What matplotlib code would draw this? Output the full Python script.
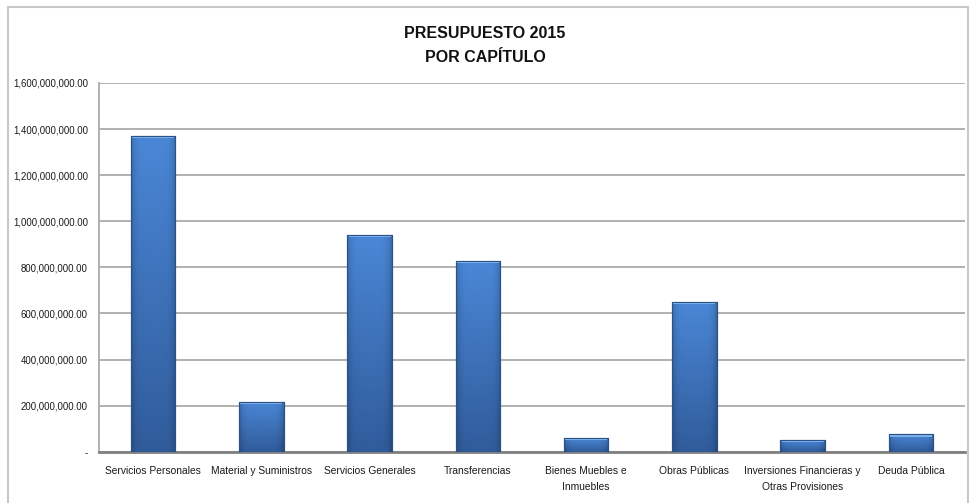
import numpy as np
import matplotlib
matplotlib.use('Agg')
import matplotlib.pyplot as plt
from matplotlib.ticker import FuncFormatter
from matplotlib.patches import Rectangle

categories = ['Servicios Personales', 'Material y Suministros', 'Servicios Generales',
              'Transferencias', 'Bienes Muebles e\nInmuebles', 'Obras Públicas',
              'Inversiones Financieras y\nOtras Provisiones', 'Deuda Pública']
values = [1370000000, 217000000, 940000000, 828000000, 60000000, 650000000, 50000000, 75000000]
yticks = [0, 200000000, 400000000, 600000000, 800000000, 1000000000,
          1200000000, 1400000000, 1600000000]

# no narrow font installed, so Arial-like at a smaller size
plt.rcParams['font.family'] = ['Liberation Sans', 'DejaVu Sans']

fig = plt.figure(figsize=(9.7, 5.03), dpi=100)
ax = fig.add_axes([99 / 970, (503 - 451.7) / 503, 866 / 970, 368.7 / 503])

# outer chart frame
fig.patches.append(Rectangle((8 / 970, -0.02), 960 / 970, (503 - 7) / 503 + 0.02,
                             transform=fig.transFigure, fill=False,
                             edgecolor='#c8c8c8', linewidth=1.5))

x = np.arange(len(categories))
width = 0.41
bars = ax.bar(x, values, width=width, color='#3d74c0', edgecolor='#2a5288',
              linewidth=0.8, zorder=3)

# shading like the Excel bevel fill
top = np.array([0.29, 0.53, 0.84])
bottom = np.array([0.19, 0.36, 0.61])
ny, nx = 100, 40
t = np.linspace(0, 1, ny)[:, None, None]
grad = top * (1 - t) + bottom * t
grad = np.repeat(grad, nx, axis=1)
edge = np.linspace(-1, 1, nx)
shade = 1 - 0.2 * np.abs(edge) ** 6
grad = grad * shade[None, :, None]
hl = 1600000000 * 0.006
for b, v in zip(bars, values):
    x0 = b.get_x()
    im = ax.imshow(grad, extent=[x0, x0 + width, 0, v], aspect='auto',
                   origin='upper', zorder=3.5, interpolation='bilinear')
    im.set_clip_path(b)
    ax.add_patch(Rectangle((x0 + 0.01, v - hl), width - 0.02, hl * 0.8,
                           facecolor='#7fb2ec', edgecolor='none', zorder=4))
    ax.add_patch(Rectangle((x0, 0), width, v, fill=False, edgecolor='#2a5288',
                           linewidth=0.8, zorder=4))

ax.set_xlim(-0.5, len(categories) - 0.5)
ax.set_ylim(0, 1600000000)
ax.set_yticks(yticks)
ax.yaxis.set_major_formatter(FuncFormatter(lambda v, p: '-' if v == 0 else '{:,.2f}'.format(v)))
ax.set_xticks(x)
ax.set_xticklabels(categories, fontsize=7.4, color='#1a1a1a', linespacing=1.75)
ax.tick_params(axis='y', length=0, pad=8, labelsize=6.9, labelcolor='#1a1a1a')
ax.tick_params(axis='x', length=0, pad=10)

ax.grid(axis='y', color='#ababab', linewidth=1.3, zorder=0)
ax.set_axisbelow(True)
for s in ['top', 'right']:
    ax.spines[s].set_visible(False)
ax.spines['left'].set_color('#ababab')
ax.spines['left'].set_linewidth(1.3)
ax.spines['bottom'].set_color('#808080')
ax.spines['bottom'].set_linewidth(2)

fig.text(485 / 970, 1 - 33 / 503, 'PRESUPUESTO 2015', ha='center', va='center',
         fontsize=11.5, fontweight='bold', color='#111111')
fig.text(485 / 970, 1 - 57 / 503, 'POR CAPÍTULO', ha='center', va='center',
         fontsize=11.5, fontweight='bold', color='#111111')

fig.savefig('out.png', dpi=100)
